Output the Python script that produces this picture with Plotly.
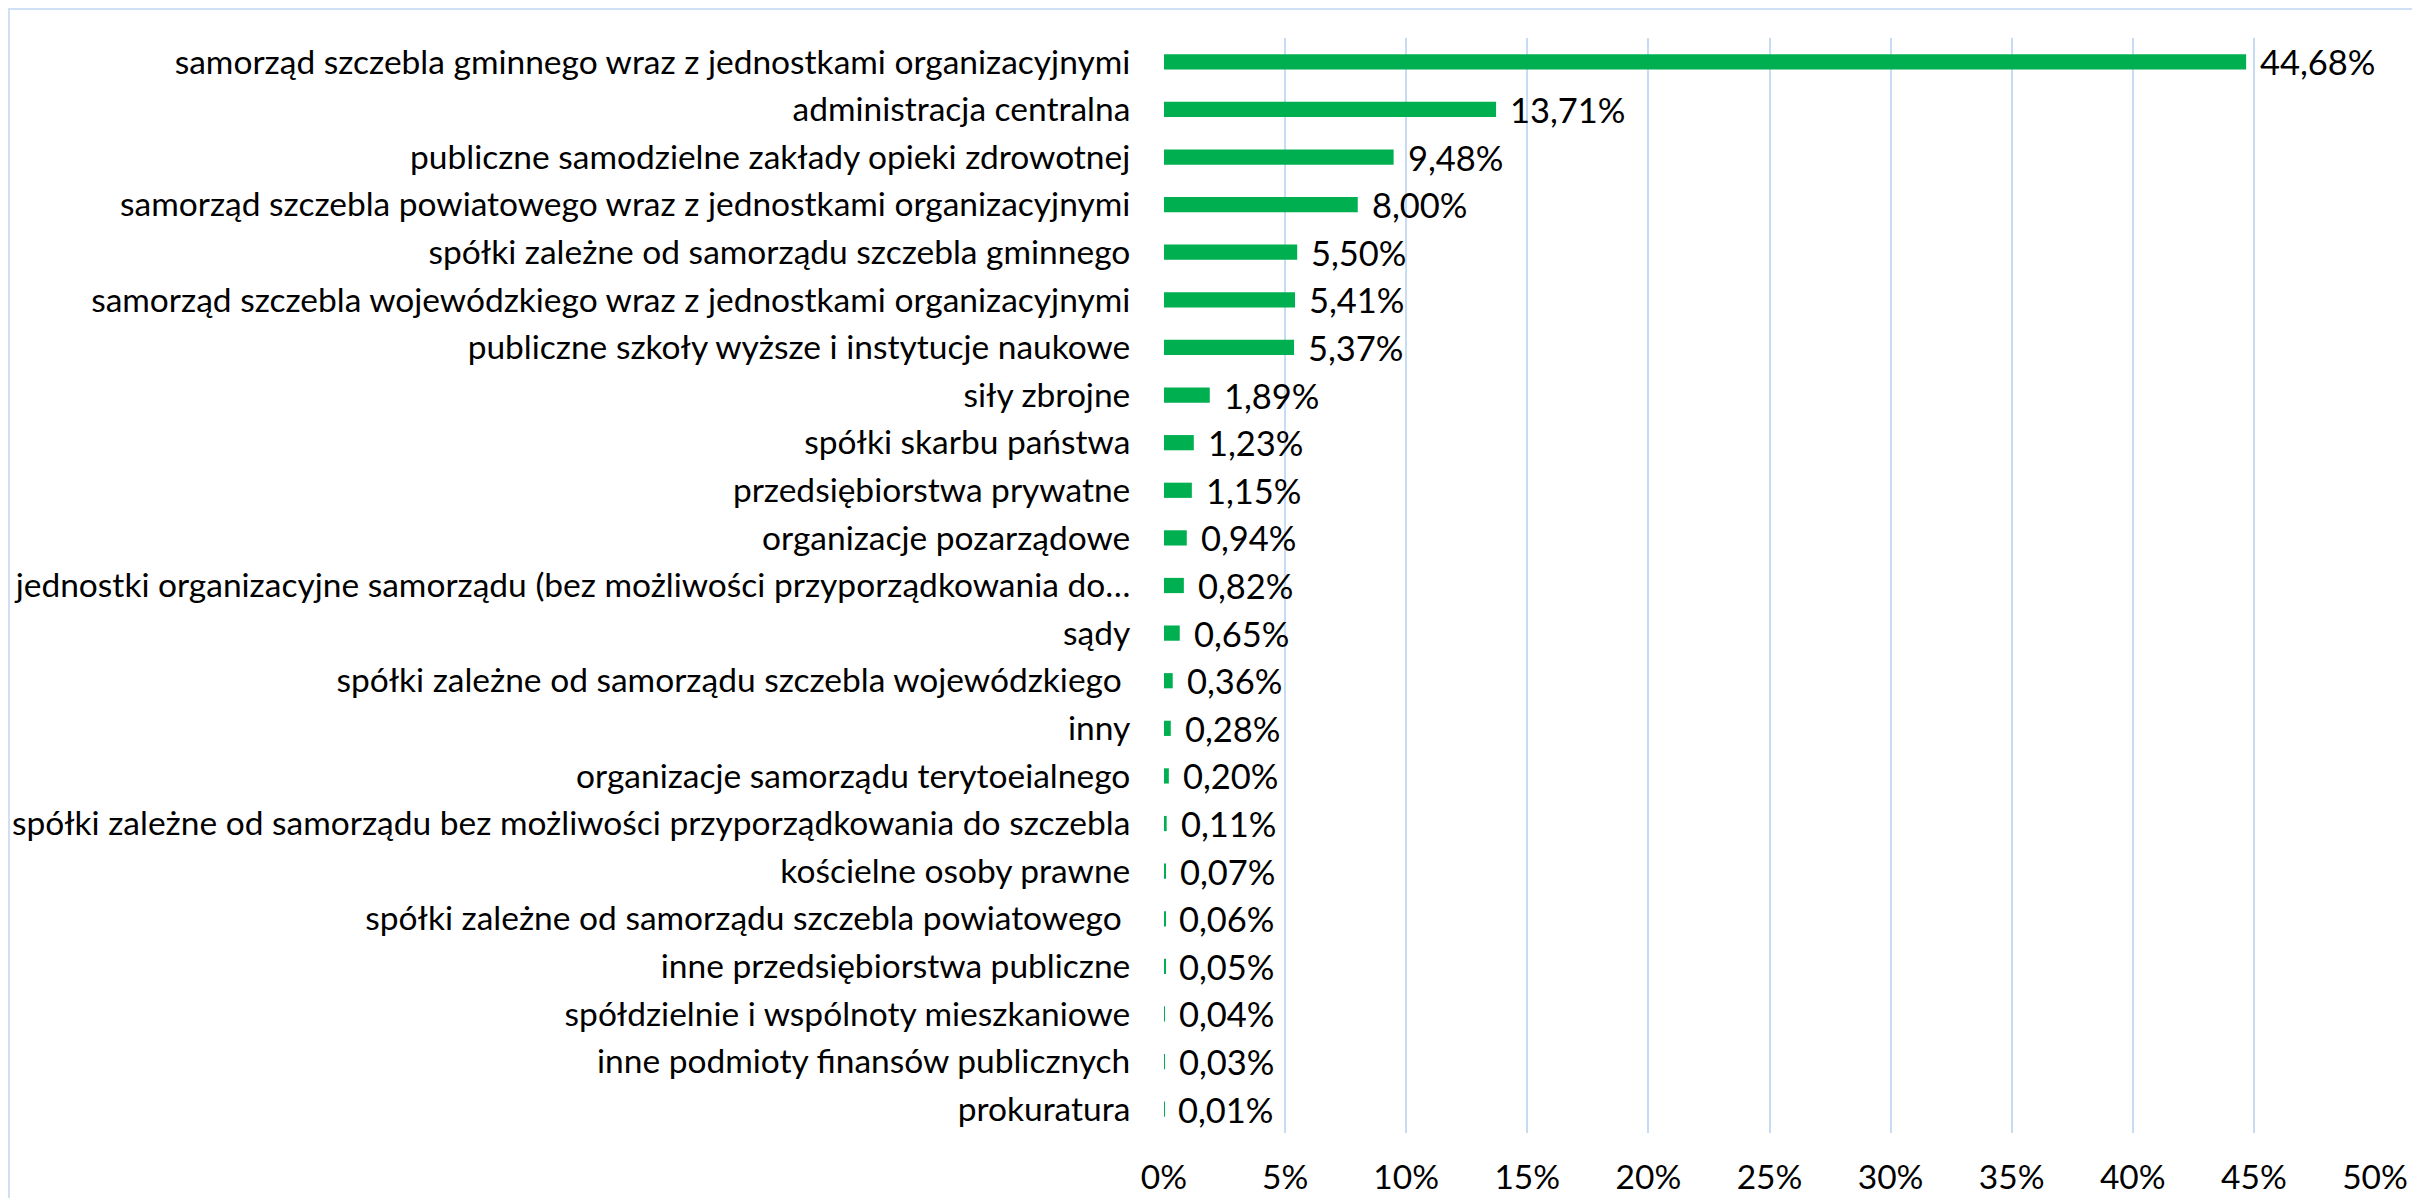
import plotly.graph_objects as go

# share of entities by type, percent
categories = [
    "samorząd szczebla gminnego wraz z jednostkami organizacyjnymi",
    "administracja centralna",
    "publiczne samodzielne zakłady opieki zdrowotnej",
    "samorząd szczebla powiatowego wraz z jednostkami organizacyjnymi",
    "spółki zależne od samorządu szczebla gminnego",
    "samorząd szczebla wojewódzkiego wraz z jednostkami organizacyjnymi",
    "publiczne szkoły wyższe i instytucje naukowe",
    "siły zbrojne",
    "spółki skarbu państwa",
    "przedsiębiorstwa prywatne",
    "organizacje pozarządowe",
    "jednostki organizacyjne samorządu (bez możliwości przyporządkowania do…",
    "sądy",
    "spółki zależne od samorządu szczebla wojewódzkiego\u00a0",
    "inny",
    "organizacje samorządu terytoeialnego",
    "spółki zależne od samorządu bez możliwości przyporządkowania do szczebla",
    "kościelne osoby prawne",
    "spółki zależne od samorządu szczebla powiatowego\u00a0",
    "inne przedsiębiorstwa publiczne",
    "spółdzielnie i wspólnoty mieszkaniowe",
    "inne podmioty finansów publicznych",
    "prokuratura",
]
values = [44.68, 13.71, 9.48, 8.00, 5.50, 5.41, 5.37, 1.89, 1.23, 1.15, 0.94,
          0.82, 0.65, 0.36, 0.28, 0.20, 0.11, 0.07, 0.06, 0.05, 0.04, 0.03, 0.01]
x_ticks = [0, 5, 10, 15, 20, 25, 30, 35, 40, 45, 50]
x_ticktext = [f"{t}%" for t in x_ticks]

GREEN = "#00B050"
GRID = "#C6DBF4"
BORDER = "#CFE0F5"
FONT = "Lato, 'Open Sans', sans-serif"

# page body has an 8px margin, so the figure is a bit smaller than the window
W, H = 2412, 1190
ML, MR, MT, MB = 1156, 45, 30, 65

labels = [f"{v:.2f}".replace(".", ",") + "%" for v in values]

fig = go.Figure(go.Bar(
    x=values,
    y=categories,
    orientation="h",
    marker=dict(color=GREEN, line=dict(width=0)),
    hoverinfo="x+y",
))

for v, c, t in zip(values, categories, labels):
    fig.add_annotation(x=v, y=c, text=t, showarrow=False, xanchor="left",
                       xshift=12, font=dict(size=34.5, color="#000000", family=FONT))

pw = W - ML - MR
ph = H - MT - MB
# light border around the chart area
fig.add_shape(type="rect", xref="paper", yref="paper",
              x0=(1 - ML) / pw, x1=(W - 3 - ML) / pw,
              y0=-0.2, y1=(ph + MT - 1) / ph,
              line=dict(color=BORDER, width=2), layer="below")

fig.update_layout(
    width=W, height=H,
    margin=dict(l=ML, r=MR, t=MT, b=MB, autoexpand=False),
    paper_bgcolor="white",
    plot_bgcolor="white",
    bargap=0.68,
    showlegend=False,
    font=dict(family=FONT, size=33.5, color="#000000"),
    xaxis=dict(
        range=[0, 50],
        tickvals=x_ticks,
        ticktext=x_ticktext,
        showgrid=True, gridcolor=GRID, gridwidth=2,
        zeroline=False, showline=False, automargin=False,
        ticks="outside", ticklen=0, ticklabelstandoff=15,
        tickfont=dict(size=33.5),
    ),
    yaxis=dict(
        autorange="reversed",
        showgrid=False, zeroline=False, showline=False, automargin=False,
        ticks="outside", ticklen=0, ticklabelstandoff=26,
        tickfont=dict(size=33.5),
    ),
)

fig.write_html("out.html")
